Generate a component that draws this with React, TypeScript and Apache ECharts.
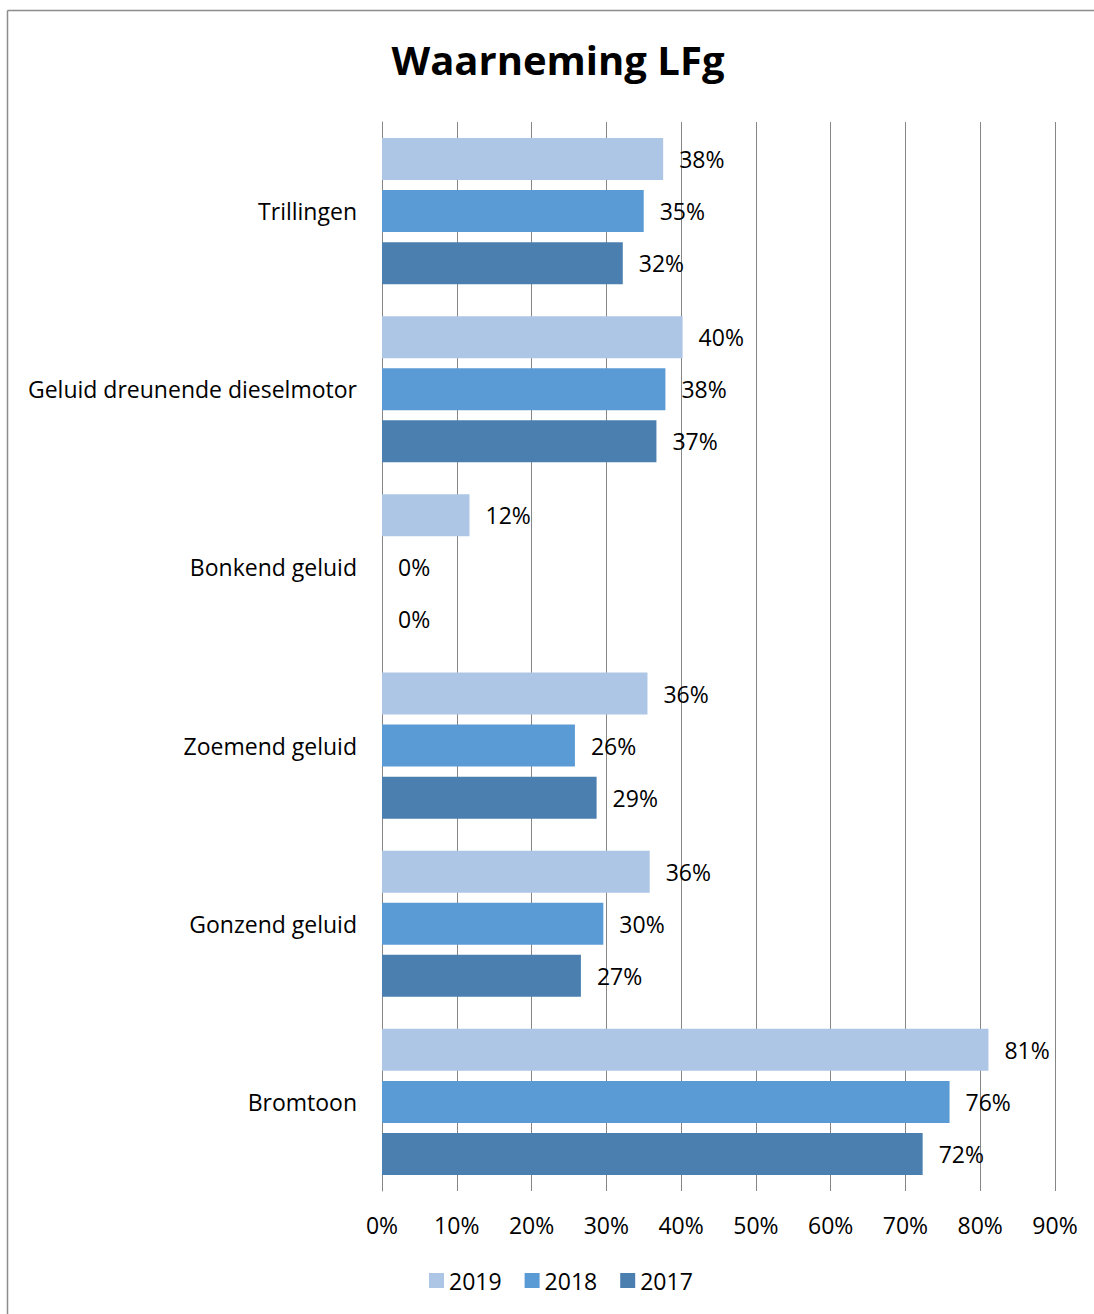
import React, { useEffect, useRef } from "react";
import * as echarts from "echarts";

const categories = [
  "Trillingen",
  "Geluid dreunende dieselmotor",
  "Bonkend geluid",
  "Zoemend geluid",
  "Gonzend geluid",
  "Bromtoon",
];
const seriesNames = ["2019", "2018", "2017"];
const values2019 = [37.6, 40.2, 11.7, 35.5, 35.8, 81.1];
const values2018 = [35.0, 37.9, 0, 25.8, 29.6, 75.9];
const values2017 = [32.2, 36.7, 0, 28.7, 26.6, 72.3];
const colors = ["#adc6e6", "#5b9bd5", "#4a7fb0"];
const FONT = "'Open Sans', sans-serif";

export default function App() {
  const ref = useRef<HTMLDivElement>(null);
  useEffect(() => {
    if (!ref.current) return;
    const chart = echarts.init(ref.current, null, { renderer: "svg" });
    const all = [values2019, values2018, values2017];
    chart.setOption({
      animation: false,
      backgroundColor: "#ffffff",
      textStyle: { fontFamily: FONT },
      title: {
        text: "Waarneming LFg",
        left: 553,
        top: 34,
        textAlign: "center",
        textStyle: { fontFamily: FONT, fontSize: 40, fontWeight: "bold", color: "#000" },
      },
      legend: {
        data: seriesNames,
        left: 424,
        top: 1264,
        itemWidth: 15,
        itemHeight: 15,
        itemGap: 23,
        icon: "rect",
        textStyle: { fontFamily: FONT, fontSize: 23, color: "#000" },
      },
      grid: { left: 382, right: 39, top: 122, bottom: 123, containLabel: false },
      xAxis: {
        type: "value",
        min: 0,
        max: 90,
        interval: 10,
        axisLine: { show: false },
        axisTick: { show: false },
        splitLine: { show: true, lineStyle: { color: "#868686", width: 1 } },
        axisLabel: {
          margin: 22,
          formatter: (v: number) => v + "%",
          fontFamily: FONT,
          fontSize: 23,
          color: "#000",
        },
      },
      yAxis: {
        type: "category",
        data: categories,
        inverse: true,
        axisLine: { show: true, lineStyle: { color: "#868686" } },
        axisTick: { show: false },
        axisLabel: { margin: 25, fontFamily: FONT, fontSize: 23, color: "#000" },
      },
      series: seriesNames.map((name, i) => ({
        name,
        type: "bar",
        data: all[i],
        barWidth: 42,
        barGap: "24%",
        itemStyle: { color: colors[i] },
        label: {
          show: true,
          position: "right",
          distance: 16,
          formatter: (p: any) => Math.round(p.value) + "%",
          fontFamily: FONT,
          fontSize: 23,
          color: "#000",
        },
      })),
      graphic: [
        { type: "line", shape: { x1: 7.5, y1: 10.5, x2: 1094, y2: 10.5 }, style: { stroke: "#8c8c8c", lineWidth: 1.5 } },
        { type: "line", shape: { x1: 7.5, y1: 10.5, x2: 7.5, y2: 1314 }, style: { stroke: "#8c8c8c", lineWidth: 1.5 } },
      ],
    });
    return () => chart.dispose();
  }, []);
  return (
    <div
      ref={ref}
      style={{ position: "fixed", left: 0, top: 0, width: 1094, height: 1314 }}
    />
  );
}
